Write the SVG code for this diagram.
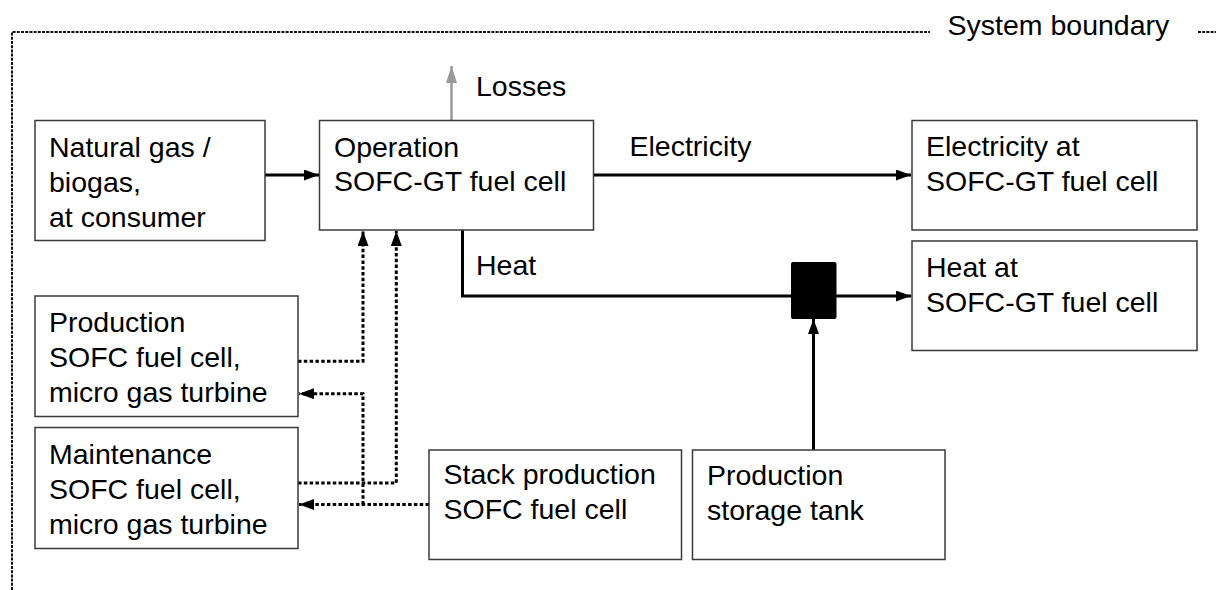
<svg xmlns="http://www.w3.org/2000/svg" width="1216" height="590" viewBox="0 0 1216 590">
<defs>
<style>
.box{fill:#fff;stroke:#3a3a3a;stroke-width:1.5}
.t{font-family:"Liberation Sans",Arial,sans-serif;font-size:28.5px;fill:#000}
.solid{fill:none;stroke:#000;stroke-width:3}
.dot{fill:none;stroke:#000;stroke-width:3;stroke-dasharray:3.5 2.3}
.loss{fill:none;stroke:#999;stroke-width:2.5}
.bound{fill:none;stroke:#111;stroke-width:2;stroke-dasharray:3 1.2}
</style>
<marker id="ah" markerUnits="userSpaceOnUse" markerWidth="15" markerHeight="11" refX="15" refY="5.5" orient="auto"><path d="M0,0 L15,5.5 L0,11 z" fill="#000"/></marker>
<marker id="ahg" markerUnits="userSpaceOnUse" markerWidth="17" markerHeight="11" refX="17" refY="5.5" orient="auto"><path d="M0,0 L17,5.5 L0,11 z" fill="#999"/></marker>
</defs>
<g id="boundary">
<path class="bound" d="M12,590 V32 H930"/>
<path class="bound" d="M1198,32 H1216"/>
<text class="t" x="947.5" y="35">System boundary</text>
</g>
<g id="connectors">
<path class="solid" d="M265,175 H319" marker-end="url(#ah)"/>
<path class="solid" d="M594,175 H911" marker-end="url(#ah)"/>
<path class="loss" d="M451.5,120 V66" marker-end="url(#ahg)"/>
<path class="solid" d="M462.5,230 V296 H791"/>
<path class="solid" d="M836,296 H911" marker-end="url(#ah)"/>
<path class="solid" d="M813.5,450 V319" marker-end="url(#ah)"/>
<path class="dot" d="M298,361.3 H363 V231" marker-end="url(#ah)"/>
<path class="dot" d="M298,483 H396.3 V231" marker-end="url(#ah)"/>
<path class="dot" d="M429,504.5 H299" marker-end="url(#ah)"/>
<path class="dot" d="M363,504.5 V393.7 H299" marker-end="url(#ah)"/>
<text class="t" x="629.5" y="156">Electricity</text>
<text class="t" x="476" y="96">Losses</text>
<text class="t" x="476" y="275">Heat</text>
</g>
<g id="mixer"><rect x="791" y="262" width="45.5" height="57" rx="2" fill="#000"/></g>
<g id="natural-gas">
<rect class="box" x="35" y="120.5" width="230" height="120"/>
<text class="t" x="49" y="157">Natural gas /</text>
<text class="t" x="49" y="192">biogas,</text>
<text class="t" x="49" y="227">at consumer</text>
</g>
<g id="operation">
<rect class="box" x="319.5" y="120.5" width="274" height="109.5"/>
<text class="t" x="334" y="157">Operation</text>
<text class="t" x="334" y="191">SOFC-GT fuel cell</text>
</g>
<g id="electricity">
<rect class="box" x="912" y="120.5" width="285" height="109.5"/>
<text class="t" x="926" y="156">Electricity at</text>
<text class="t" x="926" y="191">SOFC-GT fuel cell</text>
</g>
<g id="heat">
<rect class="box" x="912" y="241" width="285" height="109.5"/>
<text class="t" x="926" y="277">Heat at</text>
<text class="t" x="926" y="312">SOFC-GT fuel cell</text>
</g>
<g id="production">
<rect class="box" x="35" y="296" width="263" height="120.5"/>
<text class="t" x="49" y="332">Production</text>
<text class="t" x="49" y="367">SOFC fuel cell,</text>
<text class="t" x="49" y="402">micro gas turbine</text>
</g>
<g id="maintenance">
<rect class="box" x="35" y="427.5" width="263" height="121"/>
<text class="t" x="49" y="464">Maintenance</text>
<text class="t" x="49" y="499">SOFC fuel cell,</text>
<text class="t" x="49" y="534">micro gas turbine</text>
</g>
<g id="stack-production">
<rect class="box" x="429" y="450" width="252.5" height="109.5"/>
<text class="t" x="443.5" y="484">Stack production</text>
<text class="t" x="443.5" y="519">SOFC fuel cell</text>
</g>
<g id="storage-tank">
<rect class="box" x="692.5" y="450" width="252.5" height="109.5"/>
<text class="t" x="707" y="485">Production</text>
<text class="t" x="707" y="520">storage tank</text>
</g>
</svg>
